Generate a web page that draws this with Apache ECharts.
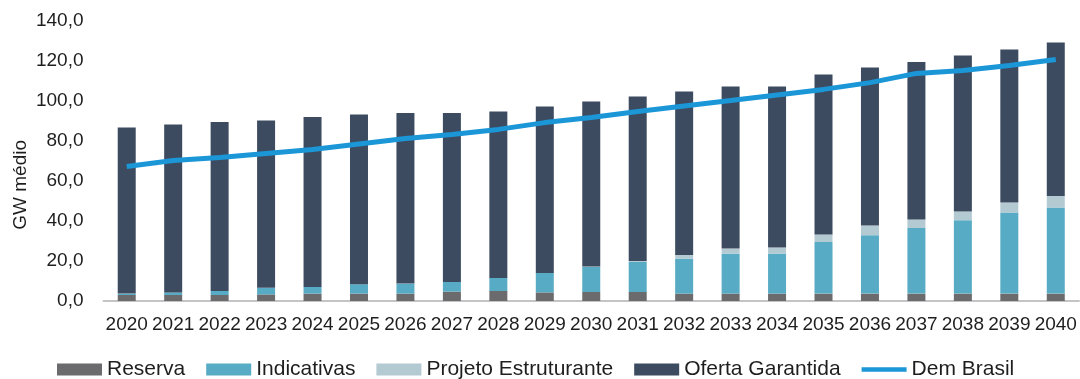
<!DOCTYPE html>
<html>
<head>
<meta charset="utf-8">
<script src="https://cdn.jsdelivr.net/npm/echarts@6/dist/echarts.min.js"></script>
<style>
html,body{margin:0;padding:0;background:#fff;}
#c{width:1080px;height:379px;}
</style>
</head>
<body>
<div id="c"></div>
<script>
const years = ['2020','2021','2022','2023','2024','2025','2026','2027','2028','2029','2030','2031','2032','2033','2034','2035','2036','2037','2038','2039','2040'];
const reserva = [3.0,3.0,3.0,3.3,3.7,3.7,3.7,4.7,5.0,4.3,4.5,4.5,3.7,3.7,3.7,3.7,3.7,3.7,3.7,3.7,3.7];
const indicativas = [0.7,1.3,2.0,3.3,3.3,4.7,5.0,4.8,6.5,9.7,12.5,15.0,17.5,20.0,20.0,25.8,29.2,32.8,36.7,40.5,43.0];
const projeto = [0,0,0,0,0,0,0,0,0,0,0.3,0.5,1.8,2.5,3.0,3.8,4.8,4.3,4.3,5.0,5.8];
const oferta = [83.0,83.9,84.5,83.6,85.0,84.9,85.3,84.5,83.2,83.2,82.5,82.3,81.8,81.1,80.6,80.0,79.0,78.7,78.1,76.6,76.7];
const demBrasil = [67.2,70.2,71.8,73.8,75.8,78.5,81.2,83.3,85.8,89.2,91.7,94.7,97.5,100.2,103.0,105.8,109.2,113.8,115.2,117.7,120.8];
const yTicks = {min: 0, max: 140, interval: 20};
const yName = 'GW médio';

const FONT = "'Liberation Sans', Arial, sans-serif";
const TXT = '#1e1e1e';

const chart = echarts.init(document.getElementById('c'), null, {renderer: 'canvas'});
const barCommon = {type: 'bar', stack: 'total', barWidth: 18, emphasis: {disabled: true}};
chart.setOption({
  animation: false,
  backgroundColor: '#ffffff',
  textStyle: {fontFamily: FONT, color: TXT},
  grid: {left: 103.5, right: 1, top: 21, bottom: 78, containLabel: false},
  legend: {
    left: 52, top: 354,
    itemWidth: 45, itemHeight: 12, itemGap: 21,
    textStyle: {fontFamily: FONT, fontSize: 21, color: TXT},
    data: [
      {name: 'Reserva', icon: 'rect'},
      {name: 'Indicativas', icon: 'rect'},
      {name: 'Projeto Estruturante', icon: 'rect'},
      {name: 'Oferta Garantida', icon: 'rect'},
      {name: 'Dem Brasil', icon: 'path://M0,0H50V5H0Z'}
    ]
  },
  xAxis: {
    type: 'category', data: years,
    axisTick: {show: false},
    axisLine: {lineStyle: {color: '#c4c4c4', width: 2}},
    axisLabel: {interval: 0, fontFamily: FONT, fontSize: 19, color: TXT, margin: 14}
  },
  yAxis: {
    type: 'value', min: yTicks.min, max: yTicks.max, interval: yTicks.interval,
    splitLine: {show: false},
    axisLine: {show: false}, axisTick: {show: false},
    axisLabel: {fontFamily: FONT, fontSize: 19, color: TXT, margin: 20,
      formatter: v => v.toFixed(1).replace('.', ',')}
  },
  graphic: [{
    type: 'text', left: 11, top: 140,
    rotation: Math.PI / 2,
    style: {text: yName, font: "19px 'Liberation Sans', Arial, sans-serif", fill: TXT}
  }],
  series: [
    Object.assign({}, barCommon, {name: 'Reserva', data: reserva, itemStyle: {color: '#6b6b6d'}}),
    Object.assign({}, barCommon, {name: 'Indicativas', data: indicativas, itemStyle: {color: '#57abc4'}}),
    Object.assign({}, barCommon, {name: 'Projeto Estruturante', data: projeto, itemStyle: {color: '#b3cad2'}}),
    Object.assign({}, barCommon, {name: 'Oferta Garantida', data: oferta, itemStyle: {color: '#3d4b61'}}),
    {type: 'line', name: 'Dem Brasil', data: demBrasil, symbol: 'none', z: 5,
     lineStyle: {color: '#1b96d7', width: 5}, itemStyle: {color: '#1b96d7'},
     emphasis: {disabled: true}}
  ]
});
</script>
</body>
</html>
